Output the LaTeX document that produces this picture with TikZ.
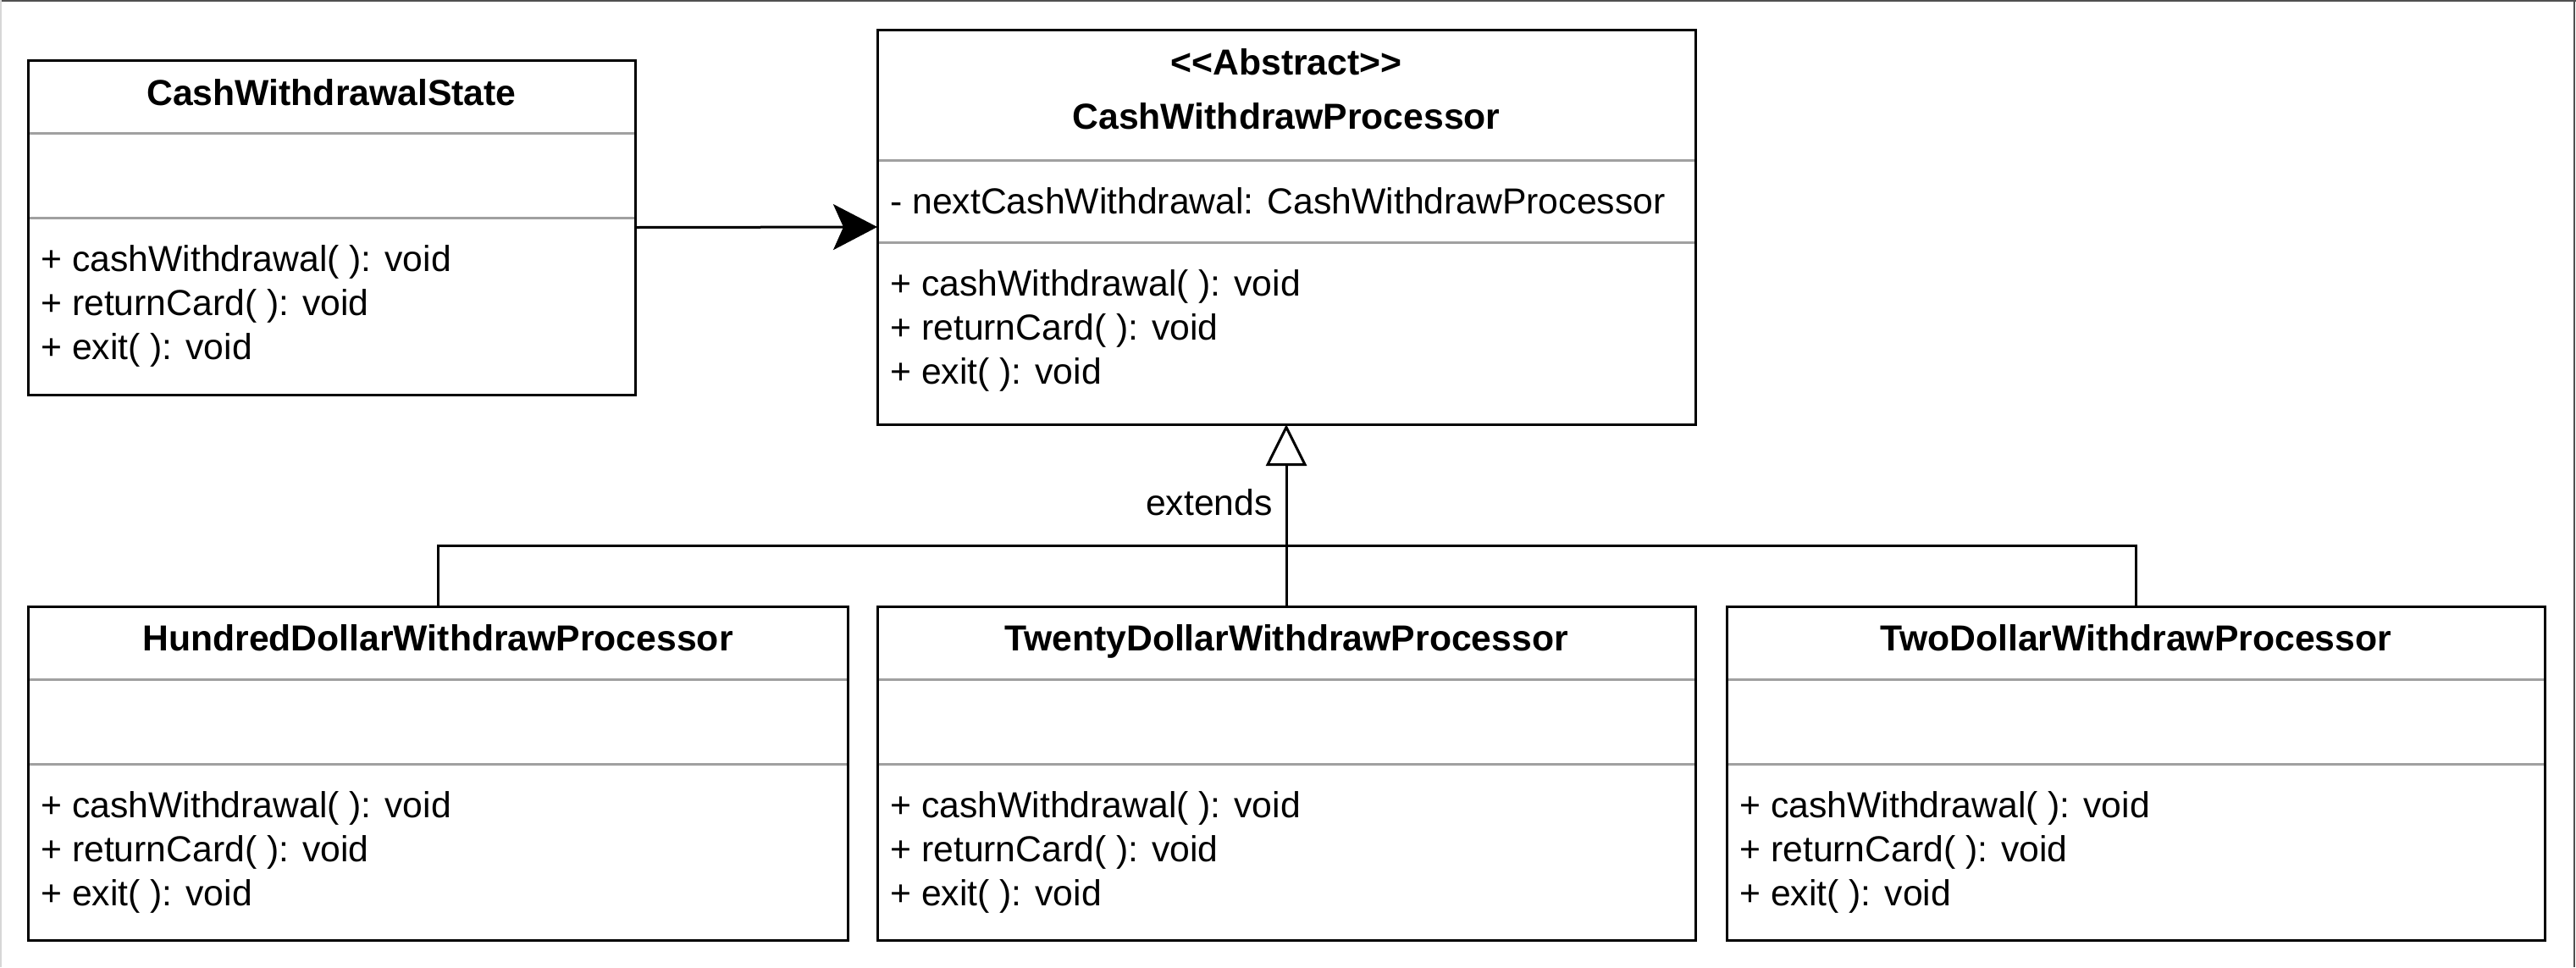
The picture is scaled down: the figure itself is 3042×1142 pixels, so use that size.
\documentclass[tikz,border=0pt]{standalone}
\usepackage{fontspec}
\setmainfont{Liberation Sans}
\usetikzlibrary{arrows.meta,calc}
\definecolor{sepgray}{RGB}{160,160,160}
\definecolor{framedark}{RGB}{80,80,80}
\definecolor{framelight}{RGB}{215,215,215}
\tikzset{
  classbox/.style={draw=black, line width=1.5pt, fill=white, inner sep=0pt, outer sep=0pt, rectangle},
  sepline/.style={draw=sepgray, line width=1.5pt},
  titletext/.style={font=\fontsize{21.35pt}{25.6pt}\selectfont\bfseries, inner sep=0pt, anchor=base},
  membertext/.style={font=\fontsize{21.35pt}{25.6pt}\selectfont, inner sep=0pt, anchor=base west},
  labeltext/.style={font=\fontsize{21.35pt}{25.6pt}\selectfont, inner sep=0pt, anchor=base},
  conn/.style={draw=black, line width=1.5pt},
}
\begin{document}
\begin{tikzpicture}[x=0.5pt,y=-0.5pt]
\useasboundingbox (0,0) rectangle (3042,1142);
% frame edges
\draw[framedark, line width=0.75pt] (0,1) -- (3042,1);
\draw[framedark, line width=1pt] (3040,0) -- (3040,1142);
\draw[framelight, line width=0.75pt] (0.75,0) -- (0.75,1142);

% class boxes
\node[classbox, minimum width=358.5pt, minimum height=197.5pt] (cws) at (391.5,268.5) {};
\node[classbox, minimum width=483pt, minimum height=233pt] (cwp) at (1519,268) {};
\node[classbox, minimum width=484pt, minimum height=197pt] (hundred) at (517,913) {};
\node[classbox, minimum width=483pt, minimum height=197pt] (twenty) at (1519,913) {};
\node[classbox, minimum width=483pt, minimum height=197pt] (two) at (2522,913) {};

% separators
\foreach \b in {cws,hundred,twenty,two}{
  \draw[sepline] ($(\b.north west)+(1.5,86)$) -- ($(\b.north east)+(-1.5,86)$);
  \draw[sepline] ($(\b.north west)+(1.5,186)$) -- ($(\b.north east)+(-1.5,186)$);
}
\draw[sepline] ($(cwp.north west)+(1.5,154)$) -- ($(cwp.north east)+(-1.5,154)$);
\draw[sepline] ($(cwp.north west)+(1.5,251)$) -- ($(cwp.north east)+(-1.5,251)$);

% CashWithdrawalState
\node[titletext] (cwsT) at ($(cws.north)+(0,53)$) {CashWithdrawalState};
\node[membertext] (cwsM1) at ($(cws.north west)+(15,249)$) {+ cashWithdrawal( ): void};
\node[membertext] (cwsM2) at ($(cws.north west)+(15,301)$) {+ returnCard( ): void};
\node[membertext] (cwsM3) at ($(cws.north west)+(15,353)$) {+ exit( ): void};

% CashWithdrawProcessor
\node[titletext] (cwpS) at ($(cwp.north)+(0,53)$) {<\kern0pt<Abstract>\kern0pt>};
\node[titletext] (cwpT) at ($(cwp.north)+(0,117)$) {CashWithdrawProcessor};
\node[membertext] (cwpA1) at ($(cwp.north west)+(15,217)$) {- nextCashWithdrawal: CashWithdrawProcessor};
\node[membertext] (cwpM1) at ($(cwp.north west)+(15,314)$) {+ cashWithdrawal( ): void};
\node[membertext] (cwpM2) at ($(cwp.north west)+(15,366)$) {+ returnCard( ): void};
\node[membertext] (cwpM3) at ($(cwp.north west)+(15,418)$) {+ exit( ): void};

% subclasses
\foreach \b/\t in {hundred/HundredDollarWithdrawProcessor,twenty/TwentyDollarWithdrawProcessor,two/TwoDollarWithdrawProcessor}{
  \node[titletext] (\b T) at ($(\b.north)+(0,52)$) {\t};
  \node[membertext] (\b M1) at ($(\b.north west)+(15,249)$) {+ cashWithdrawal( ): void};
  \node[membertext] (\b M2) at ($(\b.north west)+(15,301)$) {+ returnCard( ): void};
  \node[membertext] (\b M3) at ($(\b.north west)+(15,353)$) {+ exit( ): void};
}

% association arrow
\draw[conn, -{Stealth[length=26pt, width=27pt, inset=6pt]}] (cws.east) -- (cwp.west);

% inheritance
\coordinate (bus) at (1519,644);
\draw[conn] (hundred.north) |- (bus) -| (two.north);
\draw[conn, -{Triangle[open, length=24.5pt, width=24pt, fill=white]}] (twenty.north) -- (cwp.south);
\node[labeltext] (ext) at (1428,608) {extends};
\end{tikzpicture}
\end{document}
